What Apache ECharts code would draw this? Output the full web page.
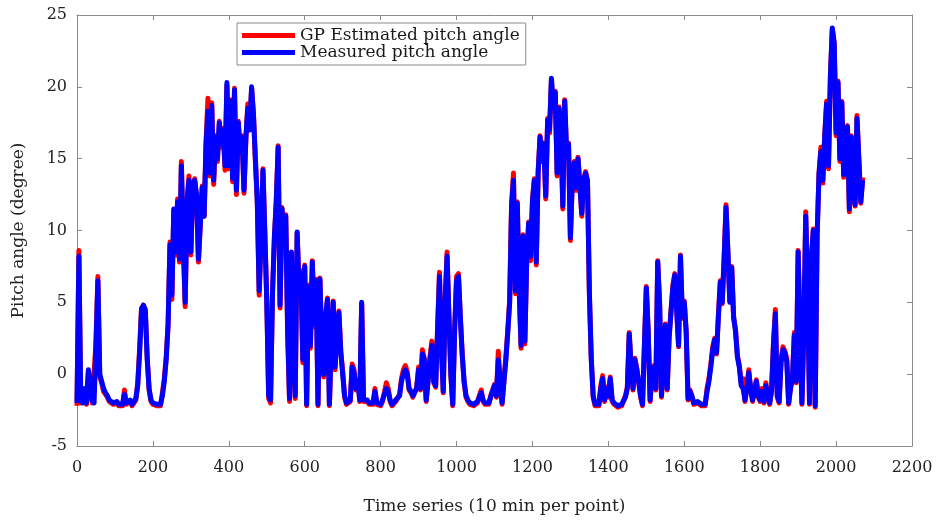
<!DOCTYPE html>
<html>
<head>
<meta charset="utf-8">
<script src="https://cdn.jsdelivr.net/npm/echarts@6/dist/echarts.min.js"></script>
<style>
  html, body { margin: 0; padding: 0; background: #fff; }
  #main { width: 939px; height: 520px; }
</style>
</head>
<body>
<div id="main"></div>
<script>
// one sample every 5 time steps, starting at 0
const STEP = 5
const xTicks = [0, 200, 400, 600, 800, 1000, 1200, 1400, 1600, 1800, 2000, 2200]
const yTicks = [-5, 0, 5, 10, 15, 20, 25]

const measured = [
  -2.0, 8.2, -1.8, -2.0, -1.0, -2.0, 0.3, -0.5, -1.8, -2.0, 2.0, 6.5, 0.0, -0.5, -1.0, -1.3, -1.5, -1.8, -1.9, -2.0,
  -2.1, -1.9, -2.1, -2.0, -2.1, -1.4, -2.0, -2.1, -1.8, -2.1, -2.0, -1.7, -0.8, 1.5, 4.5, 4.8, 4.5, 1.0, -1.0, -1.8,
  -2.0, -2.1, -2.1, -2.0, -2.1, -1.5, -0.5, 1.0, 3.5, 9.0, 5.5, 11.5, 8.5, 12.0, 8.0, 14.5, 9.0, 5.0, 12.0, 13.5,
  8.5, 13.0, 13.5, 12.5, 8.0, 10.5, 13.0, 11.0, 16.0, 18.3, 14.0, 18.7, 13.5, 16.5, 15.0, 17.5, 16.0, 17.0, 14.5, 20.3,
  14.5, 19.0, 13.6, 19.8, 12.8, 17.5, 15.5, 16.5, 12.8, 16.5, 18.5, 17.0, 20.0, 18.0, 15.0, 12.0, 5.8, 9.5, 14.2, 9.8,
  5.0, -1.5, -1.8, 5.5, 9.5, 12.0, 15.8, 4.8, 11.5, 10.0, 11.0, 3.0, -1.7, 8.5, 3.0, -1.5, 9.9, 6.0, 7.0, 1.0,
  7.5, -2.1, 6.1, 2.0, 7.8, 3.5, 6.5, -2.1, 6.6, 2.0, 0.0, 4.0, 5.2, -2.1, 2.0, 5.0, 0.5, 3.0, 4.3, 1.5,
  0.0, -1.5, -2.0, -2.1, -1.8, 0.5, 0.1, -1.0, -0.5, -1.8, 5.0, -1.8, -1.7, -1.8, -2.0, -1.9, -2.0, -1.2, -2.0, -2.1,
  -2.1, -1.8, -1.9, -1.0, -1.2, -1.8, -2.1, -2.0, -1.8, -1.9, -1.5, -0.5, 0.0, 0.3, 0.0, -1.0, -1.2, -1.5, -1.6, -1.0,
  0.3, -1.0, 1.4, 1.0, -1.8, -0.5, 1.0, 2.0, -0.5, -0.8, 3.0, 6.8, 2.0, -1.2, 5.0, 8.2, 4.0, 0.0, -2.1, 3.0,
  6.5, 6.8, 4.0, 1.3, -0.5, -1.5, -1.8, -2.0, -2.1, -2.1, -2.0, -1.9, -1.6, -1.3, -1.8, -2.0, -2.1, -2.0, -1.6, -1.2,
  -0.8, -1.5, 1.0, -0.5, -2.0, -0.5, 1.0, 2.9, 5.0, 11.7, 13.5, 5.8, 11.9, 6.0, 2.0, 9.6, 2.3, 8.0, 10.5, 8.2,
  12.0, 13.5, 7.8, 14.0, 16.5, 15.0, 16.0, 12.4, 17.7, 17.0, 20.6, 18.5, 19.6, 14.0, 18.5, 17.0, 11.7, 19.0, 15.5, 16.0,
  9.5, 13.5, 14.7, 13.0, 15.0, 14.9, 11.2, 13.5, 14.0, 13.5, 5.7, 1.0, -1.5, -2.1, -2.0, -2.1, -1.0, -0.3, -1.8, -1.0,
  -1.5, -0.3, -1.8, -2.0, -2.1, -2.2, -2.2, -2.1, -2.0, -1.6, -1.0, 2.8, 0.5, -1.0, 1.0, 0.3, -0.5, -1.5, -2.1, 2.0,
  6.0, 3.0, -1.8, 0.0, 0.5, -1.0, 7.8, 5.0, -1.5, 1.0, 3.4, -1.0, 2.5, 4.3, 6.0, 6.9, 4.5, 2.0, 8.2, 4.0,
  5.0, 3.0, -1.7, -1.2, -1.5, -2.0, -2.1, -1.9, -1.8, -2.1, -2.2, -2.1, -1.2, -0.5, 0.5, 1.7, 2.4, 1.5, 4.0, 6.4,
  5.0, 8.0, 11.6, 8.5, 5.0, 7.4, 4.0, 3.0, 1.2, 0.5, -0.8, -1.0, -1.8, -1.0, 0.1, -1.0, -1.8, -1.2, -0.5, -1.5,
  -1.8, -1.2, -1.9, -0.8, -1.5, -2.0, -1.2, 2.0, 4.2, -1.5, -1.9, 0.8, 1.7, 1.5, 0.9, -2.0, -1.0, -0.3, 2.7, -0.5,
  8.5, 3.0, -2.0, 3.0, 11.0, 6.0, -2.0, 8.0, 10.0, -2.2, 9.6, 13.9, 15.5, 13.5, 16.5, 18.8, 14.5, 20.7, 24.1, 23.0,
  16.8, 20.3, 15.0, 18.9, 13.9, 16.0, 17.2, 11.5, 16.5, 13.0, 11.8, 17.8, 15.0, 12.0, 13.5
]

const estimated = [
  -2.2, 8.6, -2.0, -2.1, -1.2, -2.1, 0.2, -0.6, -2.0, -2.1, 2.2, 6.8, -0.2, -0.6, -1.2, -1.3, -1.6, -1.9, -2.0, -2.1,
  -2.2, -2.0, -2.2, -2.1, -2.2, -1.1, -2.1, -2.2, -1.9, -2.2, -2.1, -1.8, -0.6, 1.8, 4.6, 4.8, 4.3, 1.2, -1.1, -1.9,
  -2.1, -2.2, -2.2, -2.1, -2.2, -1.3, -0.3, 1.2, 3.4, 9.2, 5.2, 11.4, 8.3, 12.2, 7.8, 14.8, 9.2, 4.7, 12.1, 13.8,
  8.3, 13.1, 13.6, 12.3, 7.8, 10.6, 13.1, 11.0, 16.2, 19.2, 13.8, 18.9, 13.2, 16.6, 14.8, 17.6, 15.8, 17.1, 14.2, 20.1,
  14.3, 19.1, 13.4, 19.9, 12.5, 17.6, 15.3, 16.6, 12.6, 16.4, 18.8, 17.1, 19.9, 18.1, 14.8, 12.1, 5.5, 9.4, 14.3, 9.6,
  5.2, -1.7, -2.0, 5.6, 9.4, 12.1, 15.9, 4.6, 11.6, 10.1, 11.1, 2.8, -1.9, 8.4, 2.8, -1.7, 9.8, 6.2, 7.2, 0.8,
  7.6, -2.2, 6.2, 1.8, 7.9, 3.3, 6.6, -2.2, 6.7, 1.8, -0.2, 4.1, 5.3, -2.2, 2.1, 5.1, 0.3, 3.1, 4.4, 1.6,
  0.2, -1.6, -2.1, -2.2, -1.9, 0.7, 0.3, -1.1, -0.4, -1.9, 4.9, -1.9, -1.8, -1.9, -2.1, -2.0, -2.1, -1.0, -2.1, -2.2,
  -2.2, -1.9, -2.0, -0.6, -1.0, -1.9, -2.2, -2.1, -1.9, -2.0, -1.4, -0.3, 0.3, 0.6, 0.2, -1.1, -1.3, -1.6, -1.7, -0.9,
  0.5, -1.1, 1.7, 1.1, -1.9, -0.4, 1.2, 2.3, -0.6, -0.9, 3.2, 7.1, 1.9, -1.3, 5.2, 8.5, 3.9, -0.1, -2.2, 3.2,
  6.8, 7.0, 3.9, 1.4, -0.6, -1.6, -1.9, -2.1, -2.2, -2.2, -2.1, -2.0, -1.5, -1.1, -1.9, -2.1, -2.2, -2.1, -1.5, -1.1,
  -0.7, -1.6, 1.6, -0.6, -2.1, -0.4, 1.2, 3.1, 5.2, 11.9, 14.0, 5.6, 12.0, 5.8, 1.8, 9.7, 2.1, 8.1, 10.6, 7.9,
  12.2, 13.6, 7.6, 14.1, 16.6, 14.8, 16.1, 12.2, 17.8, 16.8, 20.5, 18.3, 19.7, 13.8, 18.6, 16.8, 11.5, 19.1, 15.3, 16.1,
  9.3, 13.6, 14.8, 12.8, 15.1, 15.0, 11.0, 13.6, 14.1, 13.3, 5.5, 1.1, -1.6, -2.2, -2.1, -2.2, -0.8, -0.1, -1.9, -0.9,
  -1.6, -0.2, -1.9, -2.1, -2.2, -2.3, -2.3, -2.2, -2.1, -1.5, -0.9, 2.9, 0.6, -1.1, 1.1, 0.4, -0.6, -1.6, -2.2, 2.1,
  6.1, 2.9, -1.9, 0.1, 0.6, -1.1, 7.9, 4.8, -1.6, 1.1, 3.5, -1.1, 2.6, 4.4, 6.2, 7.0, 4.4, 1.9, 8.3, 3.9,
  5.1, 2.9, -1.8, -1.1, -1.6, -2.1, -2.2, -2.0, -1.9, -2.2, -2.3, -2.2, -1.0, -0.3, 0.7, 1.9, 2.5, 1.4, 4.2, 6.5,
  4.9, 8.1, 11.8, 8.4, 5.1, 7.5, 3.9, 3.1, 1.3, 0.6, -0.6, -0.3, -1.9, -0.8, 0.3, -1.1, -1.9, -1.0, -0.4, -1.6,
  -1.9, -1.0, -2.0, -0.6, -1.6, -2.1, -1.0, 2.2, 4.5, -1.6, -2.0, 1.0, 1.9, 1.6, 1.1, -2.1, -0.9, -0.2, 2.9, -0.6,
  8.6, 2.9, -2.1, 3.1, 11.3, 5.8, -2.1, 8.1, 10.1, -2.3, 9.7, 14.0, 15.8, 13.3, 16.6, 19.0, 14.3, 20.8, 24.0, 23.1,
  16.6, 20.4, 14.8, 19.0, 13.7, 16.1, 17.3, 11.3, 16.6, 12.8, 11.7, 18.0, 14.8, 11.9, 13.7
]

function toPoints (values) {
  return values.map((v, i) => [i * STEP, v])
}

const serif = '"DejaVu Serif", "Liberation Serif", serif'
const axisGray = '#8a8a8a'

const chart = echarts.init(document.getElementById('main'), null, { renderer: 'canvas' })

// box axes on top and right, ticks only
const boxAxis = {
  type: 'value',
  show: true,
  axisLine: { show: true, onZero: false, lineStyle: { color: axisGray, width: 1 } },
  axisTick: { show: true, inside: true, length: 5, lineStyle: { color: axisGray } },
  axisLabel: { show: false },
  splitLine: { show: false }
}

chart.setOption({
  animation: false,
  backgroundColor: '#fff',
  grid: { left: 77, right: 27, top: 15, bottom: 72 },
  legend: {
    left: 237,
    top: 23,
    orient: 'vertical',
    itemWidth: 53,
    itemHeight: 5,
    itemGap: 0,
    padding: [4, 6, 4, 5],
    borderColor: axisGray,
    borderWidth: 1,
    backgroundColor: '#fff',
    icon: 'rect',
    textStyle: { fontFamily: serif, fontSize: 17, color: '#1a1a1a', lineHeight: 17 },
    data: ['GP Estimated pitch angle', 'Measured pitch angle']
  },
  xAxis: [
    {
      type: 'value',
      min: xTicks[0],
      max: xTicks[xTicks.length - 1],
      interval: 200,
      position: 'bottom',
      name: 'Time series (10 min per point)',
      nameLocation: 'middle',
      nameGap: 52,
      nameTextStyle: { fontFamily: serif, fontSize: 17, color: '#222' },
      axisLine: { onZero: false, lineStyle: { color: axisGray, width: 1 } },
      axisTick: { inside: true, length: 5, lineStyle: { color: axisGray } },
      axisLabel: { fontFamily: serif, fontSize: 16, color: '#222', margin: 14, formatter: v => String(v) },
      splitLine: { show: false }
    },
    Object.assign({ min: 0, max: 2200, interval: 200, position: 'top' }, boxAxis)
  ],
  yAxis: [
    {
      type: 'value',
      min: yTicks[0],
      max: yTicks[yTicks.length - 1],
      interval: 5,
      position: 'left',
      name: 'Pitch angle (degree)',
      nameLocation: 'middle',
      nameGap: 50,
      nameTextStyle: { fontFamily: serif, fontSize: 17, color: '#222' },
      axisLine: { show: true, onZero: false, lineStyle: { color: axisGray, width: 1 } },
      axisTick: { show: true, inside: true, length: 5, lineStyle: { color: axisGray } },
      axisLabel: { fontFamily: serif, fontSize: 16, color: '#222', margin: 10 },
      splitLine: { show: false }
    },
    Object.assign({ min: -5, max: 25, interval: 5, position: 'right' }, boxAxis)
  ],
  series: [
    {
      name: 'GP Estimated pitch angle',
      type: 'line',
      data: toPoints(estimated),
      showSymbol: false,
      symbol: 'none',
      color: '#ff0000',
      lineStyle: { color: '#ff0000', width: 5, join: 'round' },
      z: 2
    },
    {
      name: 'Measured pitch angle',
      type: 'line',
      data: toPoints(measured),
      showSymbol: false,
      symbol: 'none',
      color: '#0000ff',
      lineStyle: { color: '#0000ff', width: 5, join: 'round' },
      z: 3
    }
  ]
})
</script>
</body>
</html>
